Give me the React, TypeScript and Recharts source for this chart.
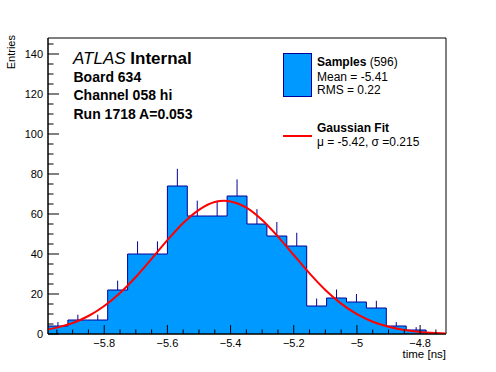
import React from 'react';
import {
  ComposedChart,
  Area,
  Line,
  Scatter,
  ErrorBar,
  XAxis,
  YAxis,
  ReferenceArea,
} from 'recharts';

// histogram binning (lower edges + last upper edge), time in ns
const binEdges = [
  -5.978, -5.915, -5.852, -5.789, -5.726, -5.663, -5.6, -5.537, -5.474, -5.411,
  -5.348, -5.285, -5.222, -5.159, -5.096, -5.033, -4.97, -4.907, -4.844, -4.781, -4.718,
];
const binCounts = [4, 7, 7, 22, 40, 40, 74, 59, 59, 69, 55, 49, 44, 14, 18, 16, 13, 4, 2, 0];

// gaussian fit curve
const fitX = [
  -5.978, -5.95, -5.9, -5.85, -5.8, -5.75, -5.7, -5.65, -5.6, -5.55, -5.5, -5.45, -5.42,
  -5.4, -5.35, -5.3, -5.25, -5.2, -5.15, -5.1, -5.05, -5.0, -4.95, -4.9, -4.85, -4.8, -4.75, -4.718,
];
const fitY = [
  2.3, 3.2, 5.5, 9.0, 14.0, 20.5, 28.5, 37.6, 46.9, 55.5, 62.1, 66.0, 66.6,
  66.3, 63.2, 57.0, 48.7, 39.5, 30.3, 22.0, 15.2, 9.9, 6.1, 3.6, 2.0, 1.0, 0.5, 0.3,
];

const xTicks = [
  -5.95, -5.9, -5.85, -5.8, -5.75, -5.7, -5.65, -5.6, -5.55, -5.5, -5.45, -5.4, -5.35,
  -5.3, -5.25, -5.2, -5.15, -5.1, -5.05, -5.0, -4.95, -4.9, -4.85, -4.8, -4.75,
];
const xMajor = [-5.8, -5.6, -5.4, -5.2, -5.0, -4.8];
const yTicks = [
  0, 5, 10, 15, 20, 25, 30, 35, 40, 45, 50, 55, 60, 65, 70, 75, 80, 85, 90, 95, 100,
  105, 110, 115, 120, 125, 130, 135, 140, 145,
];
const yMajor = [0, 20, 40, 60, 80, 100, 120, 140];

const X_MIN = binEdges[0];
const X_MAX = binEdges[binEdges.length - 1];
const Y_MAX = 148;

const FONT = '"Liberation Sans", Arial, Helvetica, sans-serif';
const FILL = '#0099ff';
const EDGE = '#000099';

const histData = binEdges.map((x, i) => ({ x, y: i < binCounts.length ? binCounts[i] : binCounts[binCounts.length - 1] }));
const errData = binCounts
  .map((c, i) => ({ x: (binEdges[i] + binEdges[i + 1]) / 2, y: c, err: [0, Math.sqrt(c)] }))
  .filter((d) => d.y > 0);
const fitData = fitX.map((x, i) => ({ x, y: fitY[i] }));

const isMajorX = (v: number) => xMajor.some((m) => Math.abs(m - v) < 1e-6);

const XTick = (props: any) => {
  const { x, y, payload } = props;
  const major = isMajorX(payload.value);
  const label = String(Number(payload.value.toFixed(1))).replace('-', '\u2212');
  return (
    <g>
      <line x1={x} x2={x} y1={y} y2={y - (major ? 9 : 4.5)} stroke="#000" />
      {major && (
        <text x={x} y={y + 12.5} textAnchor="middle" fontSize={11} fontFamily={FONT} fill="#000">
          {label}
        </text>
      )}
    </g>
  );
};

const YTick = (props: any) => {
  const { x, y, payload } = props;
  const major = yMajor.includes(payload.value);
  return (
    <g>
      <line x1={x} x2={x + (major ? 11 : 5.5)} y1={y} y2={y} stroke="#000" />
      {major && (
        <text x={x - 5} y={y} dy="0.35em" textAnchor="end" fontSize={11} fontFamily={FONT} fill="#000">
          {payload.value}
        </text>
      )}
    </g>
  );
};

const Overlay = () => (
  <svg width={496} height={372} style={{ position: 'absolute', left: 0, top: 0, pointerEvents: 'none' }} fontFamily={FONT}>
    <text x={15} y={35} transform="rotate(-90 15 35)" textAnchor="end" fontSize={11}>
      Entries
    </text>
    <text x={446} y={358} textAnchor="end" fontSize={11.5}>
      time [ns]
    </text>

    <text x={73} y={63.5} fontSize={17}>
      <tspan fontStyle="italic">ATLAS</tspan>
      <tspan fontWeight="bold"> Internal</tspan>
    </text>
    <text x={73.5} y={81.5} fontSize={14} fontWeight="bold">Board 634</text>
    <text x={73.5} y={100} fontSize={14} fontWeight="bold">Channel 058 hi</text>
    <text x={73.5} y={118.5} fontSize={14} fontWeight="bold">Run 1718 A=0.053</text>

    <rect x={283.5} y={53.5} width={28} height={43} fill={FILL} stroke={EDGE} />
    <text x={317} y={66} fontSize={12}>
      <tspan fontWeight="bold">Samples</tspan>
      <tspan> (596)</tspan>
    </text>
    <text x={317} y={80.5} fontSize={12}>Mean = -5.41</text>
    <text x={317} y={93.5} fontSize={12}>RMS = 0.22</text>

    <line x1={283} x2={312} y1={136} y2={136} stroke="#ff0000" strokeWidth={2} />
    <text x={317} y={132} fontSize={12} fontWeight="bold">Gaussian Fit</text>
    <text x={317} y={146} fontSize={12}>{'\u03bc = -5.42, \u03c3 =0.215'}</text>
  </svg>
);

export default function App() {
  return (
    <div style={{ position: 'absolute', left: 0, top: 0, width: 496, height: 372, background: '#fff' }}>
      <ComposedChart width={496} height={372} margin={{ top: 38, right: 50, bottom: 0, left: 0 }}>
        <XAxis
          type="number"
          dataKey="x"
          domain={[X_MIN, X_MAX]}
          allowDataOverflow
          ticks={xTicks}
          interval={0}
          tick={<XTick />}
          tickSize={0}
          tickMargin={0}
          tickLine={false}
          axisLine={{ stroke: '#000' }}
          height={38}
        />
        <YAxis
          type="number"
          dataKey="y"
          domain={[0, Y_MAX]}
          allowDataOverflow
          ticks={yTicks}
          interval={0}
          tick={<YTick />}
          tickSize={0}
          tickMargin={0}
          tickLine={false}
          axisLine={{ stroke: '#000' }}
          width={48}
        />
        <Area
          data={histData}
          dataKey="y"
          type="stepAfter"
          fill={FILL}
          fillOpacity={1}
          stroke={EDGE}
          strokeWidth={1}
          isAnimationActive={false}
        />
        <Scatter data={errData} dataKey="y" shape={() => <g />} isAnimationActive={false}>
          <ErrorBar dataKey="err" direction="y" width={0} stroke={EDGE} strokeWidth={1} />
        </Scatter>
        <Line
          data={fitData}
          dataKey="y"
          type="monotone"
          stroke="#ff0000"
          strokeWidth={2}
          dot={false}
          isAnimationActive={false}
        />
        <ReferenceArea x1={X_MIN} x2={X_MAX} y1={0} y2={Y_MAX} fill="none" stroke="#000" strokeWidth={1} fillOpacity={0} />
      </ComposedChart>
      <Overlay />
    </div>
  );
}
